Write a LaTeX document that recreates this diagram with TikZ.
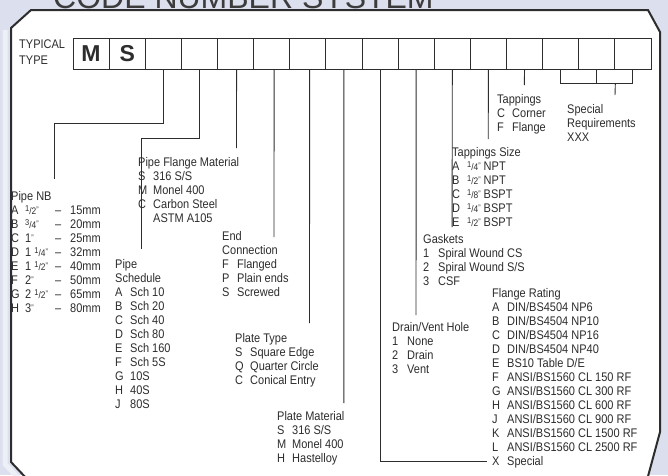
\documentclass[tikz,border=0pt]{standalone}
\usepackage{fontspec}
\setmainfont[FakeStretch=0.88]{Liberation Sans}
\newfontfamily\titlefont{Liberation Sans}
\usetikzlibrary{calc}
\definecolor{lavender}{RGB}{220,224,238}
\definecolor{lavlight}{RGB}{238,240,248}
\definecolor{ink}{RGB}{45,45,45}
\definecolor{titlegray}{RGB}{60,60,60}
\newcommand{\codeopt}[2]{\makebox[15pt][l]{#1}#2}
\newcommand{\inch}{{\fontsize{8}{8}\selectfont\raisebox{1.5pt}{"}}}
\newcommand{\frc}[2]{{\fontsize{9.5}{9}\selectfont\raisebox{3pt}{\fontsize{8.5}{8}\selectfont#1}/#2}\inch}
\newcommand{\nbopt}[4]{\makebox[14pt][l]{#1}\makebox[30pt][l]{#2}\makebox[15pt][l]{#3}#4}
\tikzset{codebox/.style={draw=ink, minimum width=36.125pt, minimum height=31pt, inner sep=0pt, line width=0.9pt}}
\tikzset{bigletter/.style={inner sep=0pt, text=ink, font=\titlefont\bfseries\fontsize{23}{23}\selectfont}}
\tikzset{lead/.style={draw=ink, line width=0.9pt}}
\tikzset{codelist/.style={anchor=base west, inner sep=0pt, text=ink, font=\fontsize{12.5}{14}\selectfont}}

\begin{document}
\begin{tikzpicture}[x=1pt, y=-1pt]

\useasboundingbox (0,0) rectangle (668,475);
\clip (0,0) rectangle (668,475);
\fill[lavender] (0,0) rectangle (668,475);

% heading, cut by the top edge
\node[anchor=base west, inner sep=0pt, text=titlegray, font=\titlefont\fontsize{32}{32}\selectfont] (title) at (53,8) {CODE NUMBER SYSTEM};

% panel
\draw[lavlight, line width=5pt] (5,30) -- (5,464) -- (22,482);
\draw[fill=white, draw=ink, line width=2pt] (31,10) -- (648,10) -- (660,32) -- (660,432) -- (647,480) -- (28,480) -- (11,462) -- (11,28) -- cycle;

% code boxes
\node[codelist] (typ) at (19,48) {\parbox[t]{50pt}{TYPICAL\\[2pt]TYPE}};
\foreach \i in {0,...,15}
  \node[codebox] (b\i) at ({73+36.125*(\i+0.5)},53.5) {};
\node[bigletter] (m) at (b0) {M};
\node[bigletter] (s) at (b1) {S};

% lead ends
\coordinate (nb) at (54,179);
\coordinate (sch) at (141.7,249);
\coordinate (flm) at (236.5,148);
\coordinate (endc) at (274,237);
\coordinate (ptype) at (309.5,323);
\coordinate (pmat) at (343.8,403);
\coordinate (frate) at (487,461);
\coordinate (dvh) at (416,315);
\coordinate (gask) at (452.1,227);
\coordinate (tsize) at (488.2,139);
\coordinate (tapp) at (524.3,85);
\coordinate (spec) at (615,95);

\draw[lead] (b2.south) -- ++(0,54) -| (nb);
\draw[lead] (b3.south) -- ++(0,69) -| (sch);
\draw[lead] (b4.south) ++(1,0) -- (flm);
\draw[lead] (b5.south) ++(2.4,0) -- (endc);
\draw[lead] (b6.south) ++(1.8,0) -- (ptype);
\draw[lead] (b7.south) -- (pmat);
\draw[lead] (b8.south) |- (frate);
\draw[lead] (b9.south) -- (dvh);
\draw[lead] (b10.south) -- (gask);
\draw[lead] (b11.south) -- (tsize);
\draw[lead] (b12.south) -- (tapp);
\draw[lead] (b13.south) -- ++(0,14) -| (b15.south);
\draw[lead] (b14.south) -- ++(0,14);
\draw[lead] ($(b14.south east)+(0,14)$) -- (spec);

% option lists
\node[codelist] (pipenb) at (11,200) {\parbox[t]{100pt}{Pipe NB\\
\nbopt{A}{\frc12}{--}{15mm}\\
\nbopt{B}{\frc34}{--}{20mm}\\
\nbopt{C}{1\inch}{--}{25mm}\\
\nbopt{D}{1 \frc14}{--}{32mm}\\
\nbopt{E}{1 \frc12}{--}{40mm}\\
\nbopt{F}{2\inch}{--}{50mm}\\
\nbopt{G}{2 \frc12}{--}{65mm}\\
\nbopt{H}{3\inch}{--}{80mm}}};

\node[codelist] (flange) at (138,166) {\parbox[t]{120pt}{Pipe Flange Material\\
\codeopt{S}{316 S/S}\\
\codeopt{M}{Monel 400}\\
\codeopt{C}{Carbon Steel}\\
\codeopt{}{ASTM A105}}};

\node[codelist] (schedule) at (115,268) {\parbox[t]{80pt}{Pipe\\Schedule\\
\codeopt{A}{Sch 10}\\
\codeopt{B}{Sch 20}\\
\codeopt{C}{Sch 40}\\
\codeopt{D}{Sch 80}\\
\codeopt{E}{Sch 160}\\
\codeopt{F}{Sch 5S}\\
\codeopt{G}{10S}\\
\codeopt{H}{40S}\\
\codeopt{J}{80S}}};

\node[codelist] (endconn) at (222,240) {\parbox[t]{80pt}{End\\Connection\\
\codeopt{F}{Flanged}\\
\codeopt{P}{Plain ends}\\
\codeopt{S}{Screwed}}};

\node[codelist] (platetype) at (235,342) {\parbox[t]{100pt}{Plate Type\\
\codeopt{S}{Square Edge}\\
\codeopt{Q}{Quarter Circle}\\
\codeopt{C}{Conical Entry}}};

\node[codelist] (platemat) at (277,420) {\parbox[t]{100pt}{Plate Material\\
\codeopt{S}{316 S/S}\\
\codeopt{M}{Monel 400}\\
\codeopt{H}{Hastelloy}}};

\node[codelist] (drain) at (392,331) {\parbox[t]{100pt}{Drain/Vent Hole\\
\codeopt{1}{None}\\
\codeopt{2}{Drain}\\
\codeopt{3}{Vent}}};

\node[codelist] (rating) at (492,297) {\parbox[t]{160pt}{Flange Rating\\
\codeopt{A}{DIN/BS4504 NP6}\\
\codeopt{B}{DIN/BS4504 NP10}\\
\codeopt{C}{DIN/BS4504 NP16}\\
\codeopt{D}{DIN/BS4504 NP40}\\
\codeopt{E}{BS10 Table D/E}\\
\codeopt{F}{ANSI/BS1560 CL 150 RF}\\
\codeopt{G}{ANSI/BS1560 CL 300 RF}\\
\codeopt{H}{ANSI/BS1560 CL 600 RF}\\
\codeopt{J}{ANSI/BS1560 CL 900 RF}\\
\codeopt{K}{ANSI/BS1560 CL 1500 RF}\\
\codeopt{L}{ANSI/BS1560 CL 2500 RF}\\
\codeopt{X}{Special}}};

\node[codelist] (gaskets) at (423,243) {\parbox[t]{120pt}{Gaskets\\
\codeopt{1}{Spiral Wound CS}\\
\codeopt{2}{Spiral Wound S/S}\\
\codeopt{3}{CSF}}};

\node[codelist] (tapsize) at (452,156) {\parbox[t]{100pt}{Tappings Size\\
\codeopt{A}{\frc14 NPT}\\
\codeopt{B}{\frc12 NPT}\\
\codeopt{C}{\frc18 BSPT}\\
\codeopt{D}{\frc14 BSPT}\\
\codeopt{E}{\frc12 BSPT}}};

\node[codelist] (tappings) at (497,103) {\parbox[t]{70pt}{Tappings\\
\codeopt{C}{Corner}\\
\codeopt{F}{Flange}}};

\node[codelist] (special) at (567,113) {\parbox[t]{90pt}{Special\\Requirements\\XXX}};

\end{tikzpicture}
\end{document}
